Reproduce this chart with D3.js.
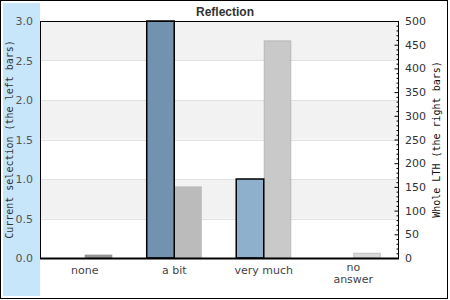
<!DOCTYPE html>
<html>
<head>
<meta charset="utf-8">
<script src="https://cdn.jsdelivr.net/npm/d3@7"></script>
<style>
  body { margin: 0; background: #fff; }
  svg { display: block; }
</style>
</head>
<body>
<div id="chart"></div>
<script>
// data
var categories = ["none", "a bit", "very much", "no answer"];
var selectionValues = [0, 3, 1, 0];      // left bars, left axis
var lthValues = [6, 150, 458, 10];        // right bars, right axis
var leftTicks = [0, 0.5, 1, 1.5, 2, 2.5, 3];
var rightTicks = [0, 50, 100, 150, 200, 250, 300, 350, 400, 450, 500];

// colours per category
var selColors = ["#7193b0", "#7193b0", "#8fb0cc", "#8fb0cc"];
var lthColors = ["#9a9a9a", "#bbbbbb", "#c9c9c9", "#d9d9d9"];
var lthStroke = ["#8c8c8c", "#bbbbbb", "#b8b8b8", "#c2c2c2"];

var W = 450, H = 300;
var plot = { left: 40, right: 398, top: 21, bottom: 258 };

var svg = d3.select("#chart").append("svg")
    .attr("width", W)
    .attr("height", H);

// outer frame + left side strip
svg.append("rect")
    .attr("x", 0.5).attr("y", 0.5)
    .attr("width", 447).attr("height", 298)
    .attr("fill", "#fff")
    .attr("stroke", "#000");

svg.append("rect")
    .attr("x", 3).attr("y", 3)
    .attr("width", plot.left - 3).attr("height", 293)
    .attr("fill", "#c7e6fa");

// scales
var yL = d3.scaleLinear().domain([0, 3]).range([plot.bottom, plot.top]);
var yR = d3.scaleLinear().domain([0, 500]).range([plot.bottom, plot.top]);

var x0 = d3.scaleBand()
    .domain(categories)
    .range([plot.left, plot.right])
    .paddingInner(0.385)
    .paddingOuter(0.1925);

var x1 = d3.scaleBand()
    .domain(["sel", "lth"])
    .range([0, x0.bandwidth()]);

// alternating bands
var bands = d3.range(leftTicks.length - 1);
svg.selectAll(".band")
    .data(bands)
    .enter()
    .append("rect")
    .attr("class", "band")
    .attr("x", plot.left)
    .attr("y", d => yL(leftTicks[d + 1]))
    .attr("width", plot.right - plot.left)
    .attr("height", d => yL(leftTicks[d]) - yL(leftTicks[d + 1]))
    .attr("fill", d => (leftTicks.length - 2 - d) % 2 == 0 ? "#f2f2f2" : "#fff");

// grid lines
svg.selectAll(".grid")
    .data(leftTicks.slice(1, -1))
    .enter()
    .append("line")
    .attr("class", "grid")
    .attr("x1", plot.left)
    .attr("x2", plot.right)
    .attr("y1", d => Math.round(yL(d)) + 0.5)
    .attr("y2", d => Math.round(yL(d)) + 0.5)
    .attr("stroke", "#e0e0e0");

// bars
var groups = svg.selectAll(".group")
    .data(categories)
    .enter()
    .append("g")
    .attr("class", "group")
    .attr("transform", d => "translate(" + x0(d) + ",0)");

groups.append("rect")
    .attr("x", x1("lth") + 0.5)
    .attr("y", (d, i) => yR(lthValues[i]))
    .attr("width", x1.bandwidth() - 1)
    .attr("height", (d, i) => plot.bottom - yR(lthValues[i]))
    .attr("fill", (d, i) => lthColors[i])
    .attr("stroke", (d, i) => lthStroke[i]);

groups.filter((d, i) => selectionValues[i] > 0)
    .append("rect")
    .attr("x", (d) => x1("sel"))
    .attr("y", d => yL(selectionValues[categories.indexOf(d)]))
    .attr("width", x1.bandwidth())
    .attr("height", d => plot.bottom - yL(selectionValues[categories.indexOf(d)]))
    .attr("fill", d => selColors[categories.indexOf(d)])
    .attr("stroke", "#000")
    .attr("stroke-width", 1.5);

// plot frame
svg.append("rect")
    .attr("x", plot.left + 0.5)
    .attr("y", plot.top + 0.5)
    .attr("width", plot.right - plot.left)
    .attr("height", plot.bottom - plot.top)
    .attr("fill", "none")
    .attr("stroke", "#000");

svg.append("line")
    .attr("x1", plot.left).attr("x2", plot.right + 1)
    .attr("y1", plot.bottom + 0.5).attr("y2", plot.bottom + 0.5)
    .attr("stroke", "#000")
    .attr("stroke-width", 2);

// left axis labels
svg.selectAll(".ltick")
    .data(leftTicks)
    .enter()
    .append("text")
    .attr("class", "ltick")
    .attr("x", 33)
    .attr("y", d => yL(d) + 4)
    .attr("text-anchor", "end")
    .attr("font-family", "DejaVu Sans")
    .attr("font-size", 11)
    .attr("fill", "#555")
    .text(d => d3.format(".1f")(d));

// right axis: ticks inward, minor every 10
var rightAxis = d3.axisRight(yR)
    .tickValues(d3.range(0, 501, 10))
    .tickSize(-2)
    .tickFormat("");

svg.append("g")
    .attr("transform", "translate(" + (plot.right + 0.5) + ",0)")
    .call(rightAxis)
    .call(g => g.select(".domain").remove())
    .call(g => g.selectAll(".tick line")
        .attr("stroke", "#000")
        .attr("x2", d => d % 50 == 0 ? -4 : -2));

svg.selectAll(".rtick")
    .data(rightTicks)
    .enter()
    .append("text")
    .attr("class", "rtick")
    .attr("x", 405)
    .attr("y", d => yR(d) + 4)
    .attr("font-family", "DejaVu Sans")
    .attr("font-size", 11)
    .attr("fill", "#333")
    .text(d => d);

// category labels
var catLabels = svg.selectAll(".cat")
    .data(categories)
    .enter()
    .append("text")
    .attr("class", "cat")
    .attr("text-anchor", "middle")
    .attr("font-family", "DejaVu Sans")
    .attr("font-size", 11)
    .attr("fill", "#444")
    .attr("transform", d => "translate(" + (x0(d) + x0.bandwidth() / 2) + ",274)");

catLabels.each(function(d) {
    var words = d == "no answer" ? ["no", "answer"] : [d];
    var t = d3.select(this);
    t.attr("y", words.length > 1 ? -3 : 0);
    words.forEach((w, i) => {
        t.append("tspan")
            .attr("x", 0)
            .attr("dy", i == 0 ? 0 : 12)
            .text(w);
    });
});

// title
svg.append("text")
    .attr("x", 225)
    .attr("y", 16)
    .attr("text-anchor", "middle")
    .attr("font-family", "Liberation Sans")
    .attr("font-weight", "bold")
    .attr("font-size", 12)
    .attr("fill", "#333")
    .text("Reflection");

// axis titles
svg.append("text")
    .attr("transform", "translate(13," + ((plot.top + plot.bottom) / 2) + ") rotate(-90)")
    .attr("text-anchor", "middle")
    .attr("font-family", "DejaVu Sans Mono")
    .attr("font-size", 10)
    .attr("fill", "#333")
    .text("Current selection (the left bars)");

svg.append("text")
    .attr("transform", "translate(440," + ((plot.top + plot.bottom) / 2) + ") rotate(-90)")
    .attr("text-anchor", "middle")
    .attr("font-family", "DejaVu Sans Mono")
    .attr("font-size", 10)
    .attr("fill", "#111")
    .text("Whole LTH (the right bars)");
</script>
</body>
</html>
